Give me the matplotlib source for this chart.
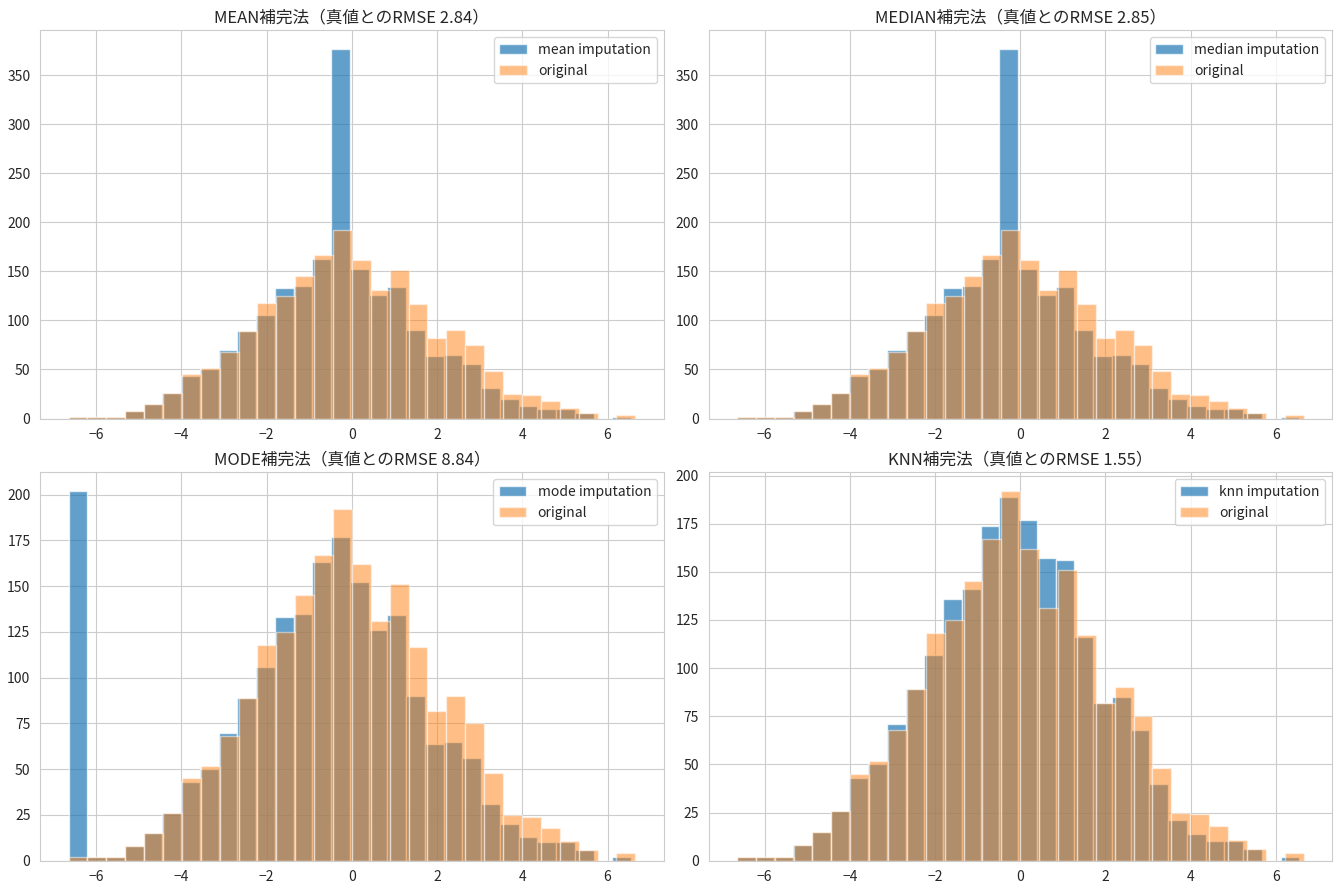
import numpy as np
import matplotlib
matplotlib.use('Agg')
import matplotlib.pyplot as plt
import seaborn as sns

sns.set_style('whitegrid')
plt.rcParams['font.family'] = ['Noto Sans CJK JP', 'DejaVu Sans']
plt.rcParams['axes.unicode_minus'] = True

# 元データの範囲とヒストグラム (30 bins)
orig_range = (-6.65, 6.65)
imp_range = (-6.65, 6.55)
n_bins = 30

original = [2, 2, 2, 8, 15, 26, 45, 52, 68, 89,
            118, 125, 145, 167, 192, 162, 131, 151, 117, 82,
            90, 75, 48, 25, 24, 18, 11, 6, 0, 4]
mean_imp = [2, 2, 2, 8, 15, 26, 43, 50, 70, 89,
            106, 133, 135, 163, 377, 152, 126, 134, 90, 64,
            65, 56, 31, 20, 13, 10, 10, 6, 0, 2]
median_imp = [2, 2, 2, 8, 15, 26, 43, 50, 70, 89,
              106, 133, 135, 163, 377, 152, 126, 134, 90, 64,
              65, 56, 31, 20, 13, 10, 10, 6, 0, 2]
mode_imp = [202, 2, 2, 8, 15, 26, 43, 50, 70, 89,
            106, 133, 135, 163, 177, 152, 126, 134, 90, 64,
            65, 56, 31, 20, 13, 10, 10, 6, 0, 2]
knn_imp = [2, 2, 2, 8, 15, 26, 43, 50, 71, 89,
           107, 136, 141, 174, 189, 177, 157, 156, 116, 82,
           85, 68, 40, 21, 14, 10, 10, 6, 0, 2]

methods = ['mean', 'median', 'mode', 'knn']
rmse = [2.84, 2.85, 8.84, 1.55]
imputed = [mean_imp, median_imp, mode_imp, knn_imp]

orig_edges = np.linspace(orig_range[0], orig_range[1], n_bins + 1)
imp_edges = np.linspace(imp_range[0], imp_range[1], n_bins + 1)

fig, axes = plt.subplots(2, 2, figsize=(13.4, 8.91), dpi=100)
for ax, m, r, counts in zip(axes.ravel(), methods, rmse, imputed):
    ax.hist((imp_edges[:-1] + imp_edges[1:]) / 2, bins=imp_edges, weights=counts,
            alpha=0.7, label=f'{m} imputation')
    ax.hist((orig_edges[:-1] + orig_edges[1:]) / 2, bins=orig_edges, weights=original,
            alpha=0.5, label='original')
    ax.set_title(f'{m.upper()}補完法（真値とのRMSE {r}）')
    ax.legend(loc='upper right')

plt.subplots_adjust(left=0.030, right=0.994, top=0.966, bottom=0.034,
                    wspace=0.072, hspace=0.139)
plt.savefig('out.png')
